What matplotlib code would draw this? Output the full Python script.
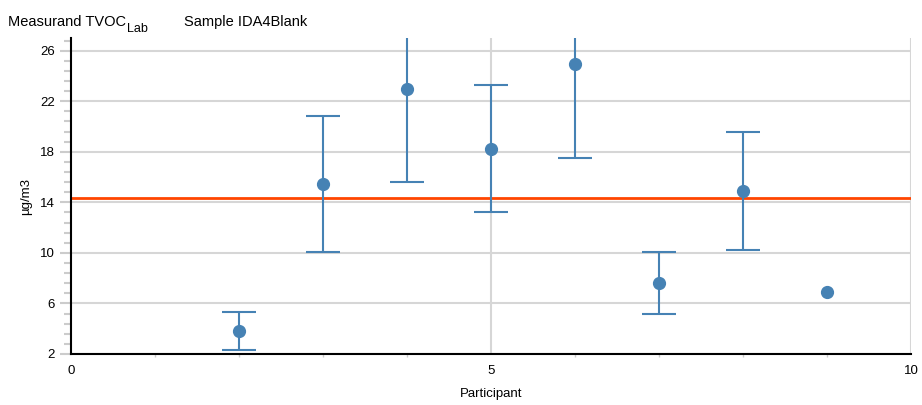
import numpy as np
import matplotlib.pyplot as plt

plt.rcParams['font.family'] = ['Liberation Sans', 'DejaVu Sans']

# data
participants = [2, 3, 4, 5, 6, 7, 8, 9]
values = [3.8, 15.45, 23.0, 18.25, 24.95, 7.65, 14.9, 6.9]
uncert = [1.5, 5.35, 7.4, 5.0, 7.45, 2.45, 4.7, 0.0]
ref_value = 14.35

fig = plt.figure(figsize=(9.22, 4.05), dpi=100)
ax = fig.add_axes([0.077, 0.126, 0.911, 0.78])

blue = '#4682b4'
grid_c = '#d6d6d6'

# horizontal grid at major y ticks, vertical grid at x=5,10
for y in range(2, 27, 4):
    ax.axhline(y, color=grid_c, lw=1.5, zorder=0)
for x in [5, 10]:
    ax.axvline(x, color=grid_c, lw=1.5, zorder=0)

ax.axhline(ref_value, color='#ff4500', lw=2, zorder=1)

# points with error bars
for p, v, u in zip(participants, values, uncert):
    if u > 0:
        ax.errorbar(p, v, yerr=u, fmt='o', color=blue, ms=8.5, capsize=12,
                    elinewidth=1.5, capthick=1.5, zorder=3)
    else:
        ax.plot(p, v, 'o', color=blue, ms=8.5, zorder=3)

ax.set_xlim(0, 10)
ax.set_ylim(2, 27)
ax.set_xticks([0, 5, 10])
ax.set_xticks(np.arange(0, 11, 1), minor=True)
ax.set_yticks(np.arange(2, 27, 4))
ax.set_yticks(np.arange(2, 27.1, 0.8), minor=True)

for s in ['top', 'right']:
    ax.spines[s].set_visible(False)
ax.spines['left'].set_linewidth(1.5)
ax.spines['bottom'].set_linewidth(1.5)

ax.tick_params(axis='y', which='major', length=8, width=1.5, color='#cccccc', labelsize=9.5)
ax.tick_params(axis='y', which='minor', length=5, width=1.5, color='#cccccc')
ax.tick_params(axis='x', which='major', length=0, labelsize=9.5, pad=8)
ax.tick_params(axis='x', which='minor', length=2, width=1, color='#cccccc', direction='out')

ax.set_xlabel('Participant', fontsize=9.5, labelpad=8)
ax.set_ylabel('µg/m3', fontsize=9.5, labelpad=6)

t = fig.text(0.009, 0.935, 'Measurand TVOC', fontsize=10.5)
ax.annotate('Lab', xy=(1, 0), xycoords=t, xytext=(0.5, -4), textcoords='offset points',
            fontsize=9, va='bottom', ha='left', annotation_clip=False)
fig.text(0.2, 0.935, 'Sample IDA4Blank', fontsize=10.5)

plt.savefig('out.png', dpi=100)
